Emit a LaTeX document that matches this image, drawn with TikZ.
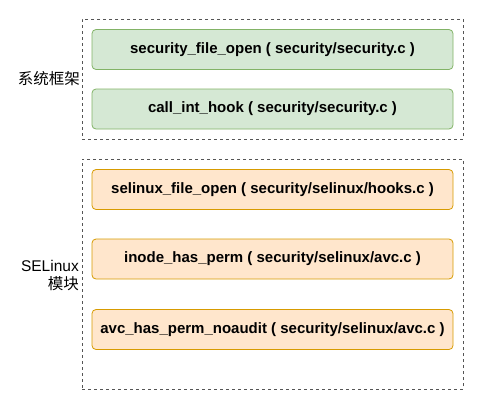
\documentclass[tikz,border=0pt]{standalone}
\usepackage{fontspec}
\setmainfont{Liberation Sans}
\newfontfamily\cjk{Noto Sans CJK SC}
\usetikzlibrary{positioning}
\definecolor{greenfill}{HTML}{D5E8D4}
\definecolor{greenline}{HTML}{82B366}
\definecolor{orangefill}{HTML}{FFE6CC}
\definecolor{orangeline}{HTML}{D79B00}
\definecolor{frameline}{HTML}{555555}

\begin{document}
\begin{tikzpicture}[x=1pt,y=-1pt]
            \tikzset{frame/.style = {shape=rectangle,draw=frameline,dashed,line width=0.8pt,minimum width=381pt}}
            \tikzset{func/.style = {shape=rectangle,rounded corners=4pt,line width=0.8pt,minimum width=361pt,minimum height=40pt,font=\fontsize{15}{18}\selectfont\bfseries}}
            \tikzset{core/.style = {func,draw=greenline,fill=greenfill}}
            \tikzset{selx/.style = {func,draw=orangeline,fill=orangefill}}
            \tikzset{side/.style = {anchor=east,inner sep=0pt,align=right,font=\fontsize{15.5}{18}\selectfont}}

            \useasboundingbox (0,0) rectangle (486,405);

            \node[frame,minimum height=120pt] (fw) at (272.5,79) {};
            \node[frame,minimum height=230pt] (se) at (272.5,274) {};

            \node[core] (open) at (272.5,49.5) {security\_file\_open ( security/security.c )};
            \node[core] (hook) at (272.5,109) {call\_int\_hook ( security/security.c )};

            \node[selx] (sfo) at (272.5,189.5) {selinux\_file\_open ( security/selinux/hooks.c )};
            \node[selx] (ihp) at (272.5,259) {inode\_has\_perm ( security/selinux/avc.c )};
            \node[selx] (ahp) at (272.5,329.5) {avc\_has\_perm\_noaudit ( security/selinux/avc.c )};

            \node[side] (fwlabel) at (80,79) {\cjk 系统框架};
            \node[side] (selabel) at (79,276) {SELinux\\{\cjk 模块}};
          \end{tikzpicture}
\end{document}
